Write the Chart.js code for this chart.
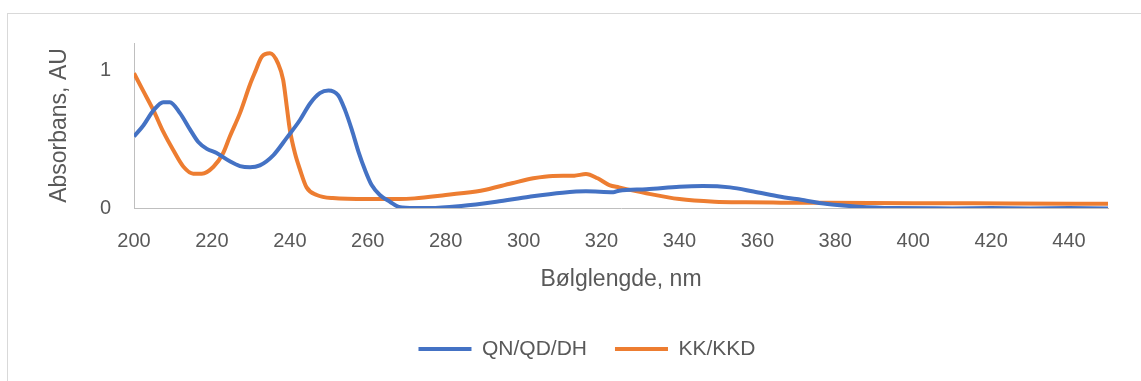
<!DOCTYPE html>
<html>
<head>
<meta charset="utf-8">
<script src="https://cdn.jsdelivr.net/npm/chart.js@4"></script>
<style>
  html, body { margin: 0; padding: 0; background: #ffffff; overflow: hidden; }
  #wrap { position: relative; width: 1141px; height: 381px; }
  #frame { position: absolute; left: 7px; top: 13px; width: 1200px; height: 400px; border: 1px solid #d9d9d9; box-sizing: border-box; }
  #c { position: absolute; left: 0; top: 0; }
</style>
</head>
<body>
<div id="wrap">
  <div id="frame"></div>
  <canvas id="c" width="1141" height="381"></canvas>
</div>
<script>
// ---- data ----
const seriesNames = ['QN/QD/DH', 'KK/KKD'];

const blueNm  = [200, 202.4, 205, 207.5, 209.2, 211.8, 214.4, 216.5, 218.7, 221.2, 224.6, 227.2, 229.8, 232.3, 235.8, 239.2, 242.6, 245.2, 247.7, 249.9, 252.4, 254.2, 255.9, 257.6, 259.3, 261, 263.1, 265.7, 268, 272, 276, 284, 293, 301.5, 310, 316, 323, 324.5, 331.5, 340, 346, 353, 359, 366, 370, 378, 386, 395, 410, 430, 450];
const blueAbs = [0.52, 0.60, 0.71, 0.77, 0.77, 0.69, 0.57, 0.48, 0.43, 0.40, 0.34, 0.305, 0.296, 0.31, 0.385, 0.51, 0.64, 0.76, 0.835, 0.855, 0.82, 0.71, 0.57, 0.41, 0.276, 0.167, 0.095, 0.045, 0.008, 0.0, 0.0, 0.015, 0.046, 0.082, 0.111, 0.121, 0.114, 0.126, 0.136, 0.155, 0.16, 0.15, 0.12, 0.082, 0.065, 0.029, 0.01, 0.0, -0.003, -0.003, -0.003];

const orangeNm  = [200, 202.4, 205, 207.5, 210.1, 212.7, 215.2, 217.4, 220.4, 222.9, 224.6, 227.2, 229.8, 231.1, 232.8, 234.9, 237, 238.3, 239.2, 240, 241.3, 242.6, 244.3, 246.9, 251, 260, 268, 272, 280, 289, 297, 302.5, 307.5, 313, 316, 319, 322, 324.5, 331.5, 340, 349, 357, 366, 378, 400, 425, 450];
const orangeAbs = [0.98, 0.85, 0.71, 0.555, 0.42, 0.30, 0.25, 0.25, 0.30, 0.40, 0.52, 0.69, 0.90, 0.99, 1.10, 1.125, 1.05, 0.93, 0.74, 0.57, 0.40, 0.28, 0.15, 0.095, 0.072, 0.065, 0.065, 0.07, 0.095, 0.126, 0.18, 0.216, 0.233, 0.235, 0.247, 0.216, 0.167, 0.15, 0.107, 0.065, 0.046, 0.041, 0.039, 0.038, 0.035, 0.033, 0.03];

const xMin = 200, xMax = 450, xStep = 20;
const yMin = 0, yMax = 1.2, yStep = 1;
const xTitle = 'Bølglengde, nm';
const yTitle = 'Absorbans, AU';

// ---- styles ----
const FONT = "'Liberation Sans', Arial, sans-serif";
const TEXT = '#595959';
const AXIS = '#bfbfbf';
const BLUE = '#4472C4';
const ORANGE = '#ED7D31';

const toPoints = (xs, ys) => xs.map((x, i) => ({ x: x, y: ys[i] }));

const legendShift = {
  id: 'legendShift',
  afterLayout(chart) {
    if (chart.legend) { chart.legend.left += 33; chart.legend.right += 33; }
  }
};

new Chart(document.getElementById('c'), {
  type: 'line',
  data: {
    datasets: [
      { label: seriesNames[0], data: toPoints(blueNm, blueAbs), borderColor: BLUE, backgroundColor: BLUE,
        borderWidth: 4, pointRadius: 0, cubicInterpolationMode: 'monotone', fill: false },
      { label: seriesNames[1], data: toPoints(orangeNm, orangeAbs), borderColor: ORANGE, backgroundColor: ORANGE,
        borderWidth: 4, pointRadius: 0, cubicInterpolationMode: 'monotone', fill: false }
    ]
  },
  options: {
    responsive: false,
    animation: false,
    devicePixelRatio: 1,
    layout: { padding: { left: 0, top: 43, right: 33, bottom: 11.5 } },
    plugins: {
      tooltip: { enabled: false },
      legend: {
        position: 'bottom',
        labels: {
          usePointStyle: true,
          pointStyle: 'line',
          pointStyleWidth: 53,
          padding: 28,
          color: TEXT,
          font: { family: FONT, size: 21 }
        }
      }
    },
    scales: {
      x: {
        type: 'linear',
        min: xMin, max: xMax,
        grid: { display: false, drawTicks: false },
        border: { display: true, color: AXIS, width: 1 },
        ticks: { stepSize: xStep, includeBounds: false, color: TEXT, padding: 21, maxRotation: 0,
                 font: { family: FONT, size: 20 } },
        title: { display: true, text: xTitle, color: TEXT, font: { family: FONT, size: 23 },
                 padding: { top: 0, bottom: 17 } },
        afterFit(scale) { scale.height = 102.5; }
      },
      y: {
        type: 'linear',
        min: yMin, max: yMax,
        grid: { display: false, drawTicks: false },
        border: { display: true, color: AXIS, width: 1 },
        ticks: { stepSize: yStep, includeBounds: false, color: TEXT, padding: 23,
                 font: { family: FONT, size: 20 } },
        title: { display: true, text: yTitle, color: TEXT, font: { family: FONT, size: 23 },
                 padding: { top: 46, bottom: 0 } },
        afterFit(scale) { scale.width = 134; }
      }
    }
  },
  plugins: [legendShift]
});
</script>
</body>
</html>
